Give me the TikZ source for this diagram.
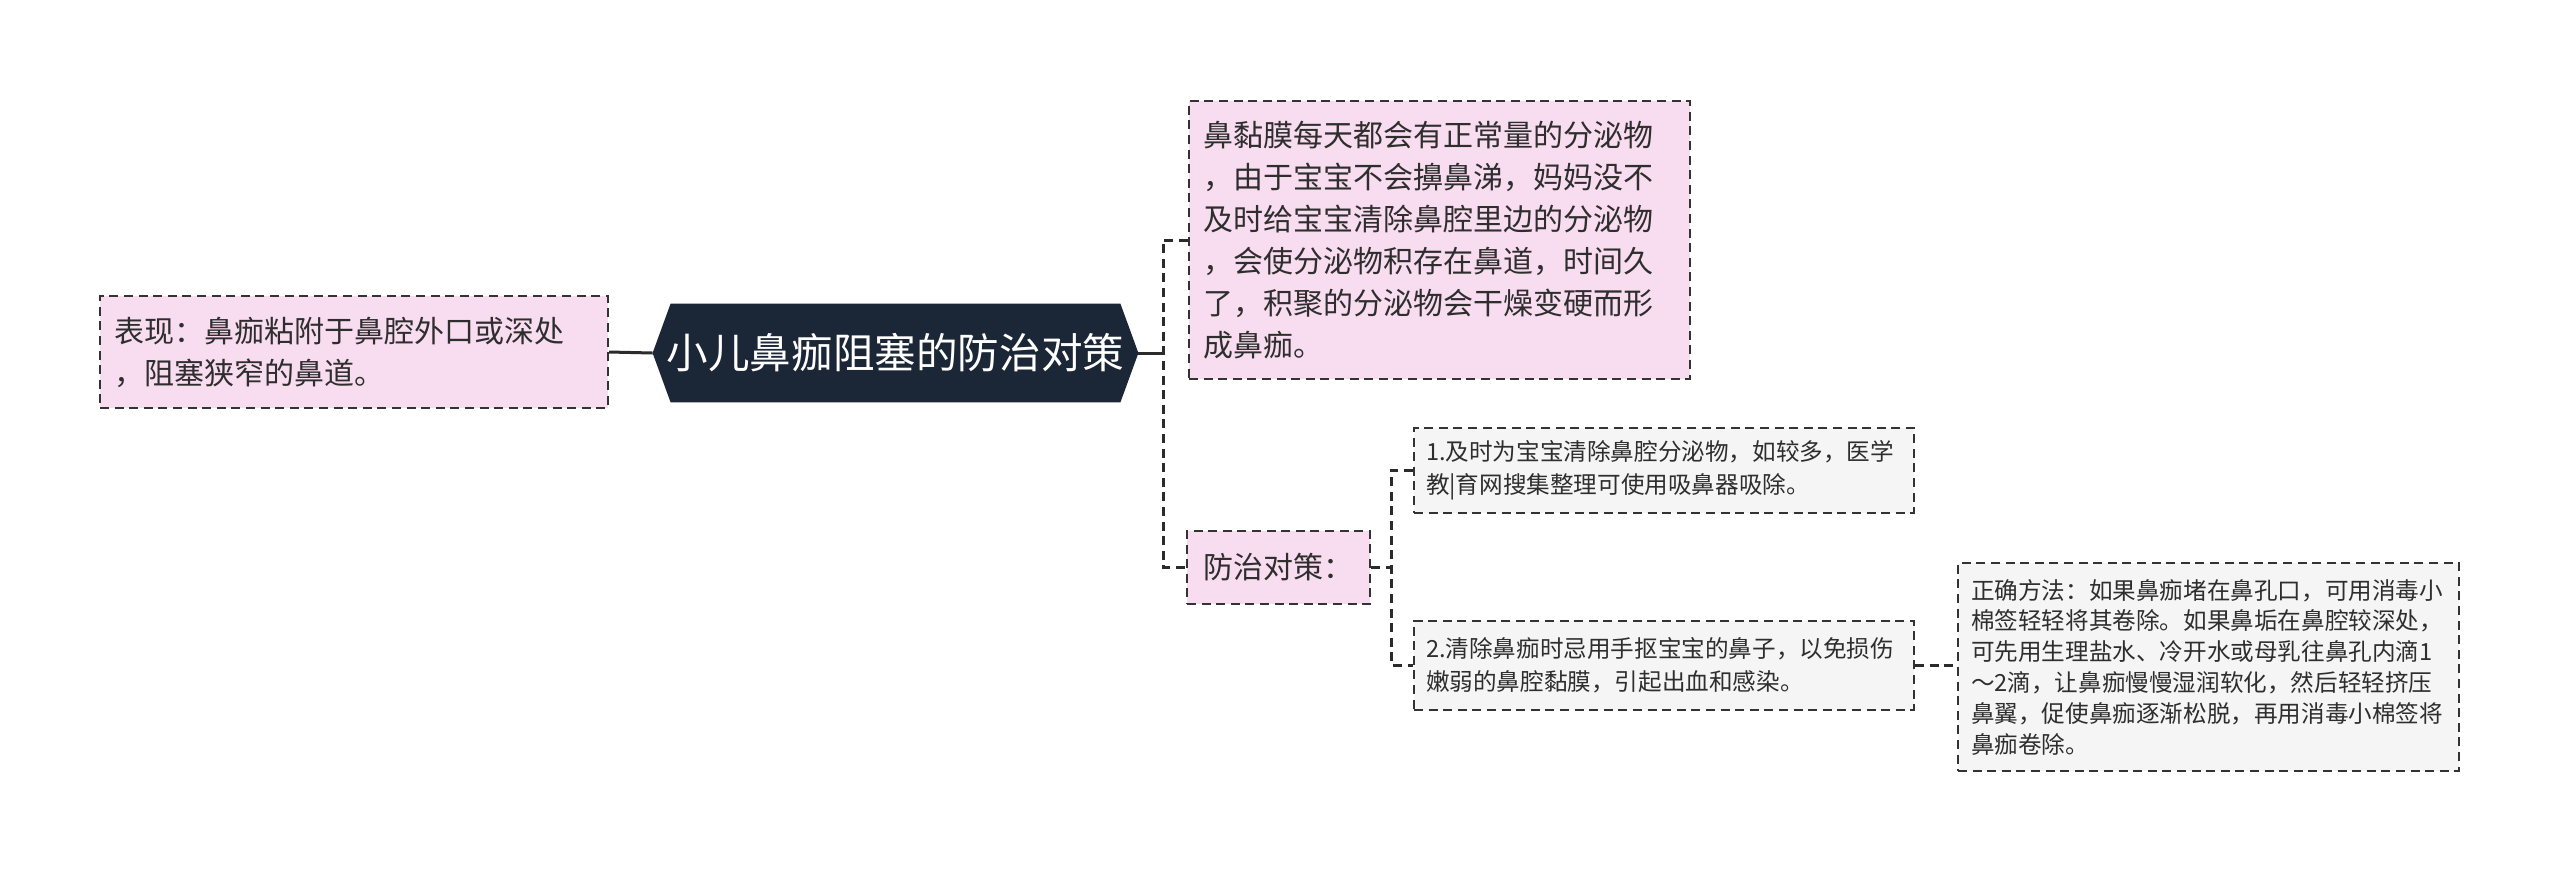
\documentclass[tikz,border=0pt]{standalone}
\usepackage{fontspec}
\newfontfamily\cjk{Noto Sans CJK SC}
\usetikzlibrary{calc,backgrounds}

\definecolor{pinkfill}{HTML}{F8DCEF}
\definecolor{greyfill}{HTML}{F5F5F5}
\definecolor{rootfill}{HTML}{1B2637}
\definecolor{boxline}{HTML}{333333}
\definecolor{linkline}{HTML}{2B2B2B}
\definecolor{textdark}{HTML}{2E2E2E}

\begin{document}
\begin{tikzpicture}[
  x=0.5pt, y=-0.5pt,
  mapbox/.style={draw=boxline, line width=1pt, dash pattern=on 4.5pt off 2.8pt,
                 align=left, inner ysep=0pt, text=textdark},
  pinkbox/.style={mapbox, fill=pinkfill, inner xsep=7pt,
                  font=\cjk\fontsize{15pt}{21pt}\selectfont},
  greybox/.style={mapbox, fill=greyfill, inner xsep=6pt, text width=238pt,
                  minimum width=250pt, font=\cjk\fontsize{11.8pt}{16.3pt}\selectfont},
  roottext/.style={text=white, inner sep=0pt, minimum width=242.5pt,
                   minimum height=49pt, font=\cjk\fontsize{20.8pt}{24pt}\selectfont},
  link/.style={draw=linkline, line width=1.5pt, dash pattern=on 4.5pt off 2.8pt},
  solidlink/.style={draw=linkline, line width=1.5pt}
]
  \useasboundingbox (0,0) rectangle (2560,874);

  % centre topic
  \node[roottext] (root) at (895.5,353) {小儿鼻痂阻塞的防治对策};
  \begin{scope}[on background layer]
    \fill[rootfill] (root.west) -- ($(root.north west)+(18,0)$)
      -- ($(root.north east)+(-18,0)$) -- (root.east)
      -- ($(root.south east)+(-18,0)$) -- ($(root.south west)+(18,0)$) -- cycle;
  \end{scope}

  % left branch
  \node[pinkbox, text width=240pt, minimum height=56pt] (biaoxian) at (354,352)
    {表现：鼻痂粘附于鼻腔外口或深处\\，阻塞狭窄的鼻道。};

  % right branches
  \node[pinkbox, text width=236.5pt, minimum height=139pt] (fenmi) at (1439.5,240)
    {鼻黏膜每天都会有正常量的分泌物\\
     ，由于宝宝不会擤鼻涕，妈妈没不\\
     及时给宝宝清除鼻腔里边的分泌物\\
     ，会使分泌物积存在鼻道，时间久\\
     了，积聚的分泌物会干燥变硬而形\\
     成鼻痂。};
  \node[pinkbox, minimum width=91.5pt, minimum height=36.5pt] (fangzhi) at (1278.5,567.5)
    {防治对策：};

  \node[greybox, minimum height=42.5pt] (cuoshi1) at (1664,470)
    {1.及时为宝宝清除鼻腔分泌物，如较多，医学\\教|育网搜集整理可使用吸鼻器吸除。};
  \node[greybox, minimum height=44.5pt] (cuoshi2) at (1664,665)
    {2.清除鼻痂时忌用手抠宝宝的鼻子，以免损伤\\嫩弱的鼻腔黏膜，引起出血和感染。};
  \node[greybox, inner xsep=6.5pt, text width=237.5pt, minimum width=250.5pt,
        minimum height=104pt, font=\cjk\fontsize{11.8pt}{15.4pt}\selectfont] (fangfa) at (2208.5,667)
    {正确方法：如果鼻痂堵在鼻孔口，可用消毒小\\
     棉签轻轻将其卷除。如果鼻垢在鼻腔较深处，\\
     可先用生理盐水、冷开水或母乳往鼻孔内滴1\\
     ～2滴，让鼻痂慢慢湿润软化，然后轻轻挤压\\
     鼻翼，促使鼻痂逐渐松脱，再用消毒小棉签将\\
     鼻痂卷除。};

  \coordinate (rootjoin) at (1163,353);
  \coordinate (fangzhijoin) at (1391,567.5);

  \draw[solidlink] (biaoxian.east) -- (root.west);
  \draw[solidlink] (root.east) -- (rootjoin);
  \draw[link] (fenmi.west) -| (rootjoin) |- (fangzhi.west);
  \draw[link] (fangzhi.east) -- (fangzhijoin);
  \draw[link] (cuoshi1.west) -| (fangzhijoin) |- (cuoshi2.west);
  \draw[link] (cuoshi2.east) -- (cuoshi2.east -| fangfa.west);
\end{tikzpicture}
\end{document}
